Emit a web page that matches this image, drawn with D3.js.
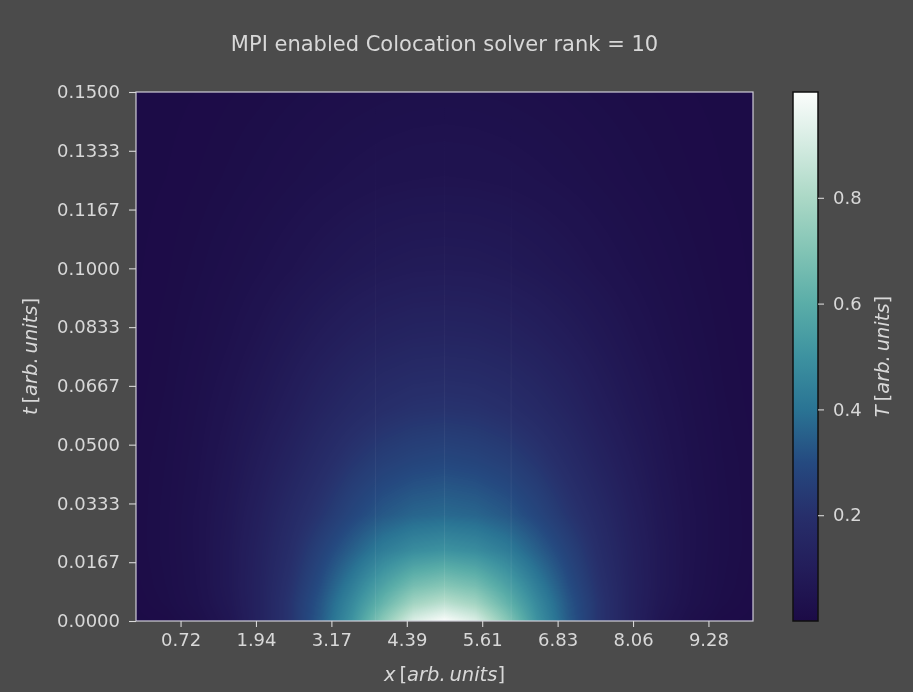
<!DOCTYPE html>
<html>
<head>
<meta charset="utf-8">
<script src="https://cdn.jsdelivr.net/npm/d3@7"></script>
<style>
  body { margin: 0; background: #4b4b4b; }
  #wrap { position: relative; width: 913px; height: 692px; }
  #wrap canvas, #wrap svg { position: absolute; left: 0; top: 0; }
  text { font-family: "DejaVu Sans", sans-serif; }
</style>
</head>
<body>
<div id="wrap">
  <canvas id="heat" width="913" height="692"></canvas>
  <svg id="chart" width="913" height="692"></svg>
</div>
<script>
// x sample positions and t sample rows of the solution T(x, t)
let xGrid = [0, 0.5, 1, 1.5, 2, 2.5, 3, 3.5, 4, 4.5, 5, 5.5, 6, 6.5, 7, 7.5, 8, 8.5, 9, 9.5, 10];
let tGrid = [0, 0.005, 0.01, 0.02, 0.03, 0.045, 0.06, 0.08, 0.1, 0.125, 0.15];

let T_t000 = [0.003, 0.008, 0.025, 0.06, 0.13, 0.22, 0.34, 0.5, 0.72, 0.92, 1.0, 0.92, 0.72, 0.5, 0.34, 0.22, 0.13, 0.06, 0.025, 0.008, 0.003];
let T_t005 = [0.006, 0.015, 0.035, 0.07, 0.13, 0.22, 0.33, 0.47, 0.63, 0.78, 0.84, 0.78, 0.63, 0.47, 0.33, 0.22, 0.13, 0.07, 0.035, 0.015, 0.006];
let T_t010 = [0.008, 0.018, 0.038, 0.075, 0.13, 0.21, 0.31, 0.43, 0.56, 0.67, 0.71, 0.67, 0.56, 0.43, 0.31, 0.21, 0.13, 0.075, 0.038, 0.018, 0.008];
let T_t020 = [0.01, 0.02, 0.04, 0.075, 0.125, 0.19, 0.27, 0.35, 0.43, 0.48, 0.50, 0.48, 0.43, 0.35, 0.27, 0.19, 0.125, 0.075, 0.04, 0.02, 0.01];
let T_t030 = [0.01, 0.02, 0.04, 0.07, 0.115, 0.17, 0.225, 0.285, 0.335, 0.365, 0.375, 0.365, 0.335, 0.285, 0.225, 0.17, 0.115, 0.07, 0.04, 0.02, 0.01];
let T_t045 = [0.01, 0.018, 0.035, 0.06, 0.095, 0.135, 0.18, 0.225, 0.26, 0.28, 0.29, 0.28, 0.26, 0.225, 0.18, 0.135, 0.095, 0.06, 0.035, 0.018, 0.01];
let T_t060 = [0.008, 0.015, 0.03, 0.05, 0.075, 0.105, 0.14, 0.17, 0.195, 0.21, 0.215, 0.21, 0.195, 0.17, 0.14, 0.105, 0.075, 0.05, 0.03, 0.015, 0.008];
let T_t080 = [0.006, 0.012, 0.022, 0.036, 0.054, 0.075, 0.097, 0.117, 0.133, 0.143, 0.146, 0.143, 0.133, 0.117, 0.097, 0.075, 0.054, 0.036, 0.022, 0.012, 0.006];
let T_t100 = [0.005, 0.009, 0.016, 0.025, 0.036, 0.048, 0.061, 0.073, 0.083, 0.089, 0.091, 0.089, 0.083, 0.073, 0.061, 0.048, 0.036, 0.025, 0.016, 0.009, 0.005];
let T_t125 = [0.004, 0.006, 0.01, 0.015, 0.021, 0.028, 0.035, 0.041, 0.046, 0.049, 0.05, 0.049, 0.046, 0.041, 0.035, 0.028, 0.021, 0.015, 0.01, 0.006, 0.004];
let T_t150 = [0.003, 0.004, 0.006, 0.009, 0.012, 0.016, 0.02, 0.024, 0.027, 0.029, 0.03, 0.029, 0.027, 0.024, 0.02, 0.016, 0.012, 0.009, 0.006, 0.004, 0.003];
let T_rows = [T_t000, T_t005, T_t010, T_t020, T_t030, T_t045, T_t060, T_t080, T_t100, T_t125, T_t150];

// faint seams between the MPI sub-domains
let seamX = [3.88, 5.0, 6.08];

// tick labels
let xTicks = [0.7222, 1.9444, 3.1667, 4.3889, 5.6111, 6.8333, 8.0556, 9.2778];
let yTicks = [0, 0.01667, 0.03333, 0.05, 0.06667, 0.08333, 0.1, 0.11667, 0.13333, 0.15];
let cbTicks = [0.2, 0.4, 0.6, 0.8];

// colour map stops
let cmapStops = [0, 0.1, 0.2, 0.3, 0.4, 0.5, 0.6, 0.7, 0.8, 0.9, 1.0];
let cmapColors = ["#1c0b46", "#231d5a", "#272f6b", "#254a80", "#2a7494", "#3d92a0", "#5aada8", "#82c4b5", "#abd8c6", "#d4ebe1", "#fbfdfc"];

let pLeft = 136, pRight = 753, pTop = 92, pBottom = 621;
let cbLeft = 793, cbRight = 818;
let fg = "#d8d8d8";

let x = d3.scaleLinear().domain([0, 10]).range([pLeft, pRight]);
let y = d3.scaleLinear().domain([0, 0.15]).range([pBottom, pTop]);
let cb = d3.scaleLinear().domain([0, 1.0]).range([pBottom, pTop]);
let color = d3.scaleLinear().domain(cmapStops).range(cmapColors).clamp(true);

// look-up table for the canvas
let lut = d3.range(256).map(i => d3.rgb(color(i / 255)));

let sampleT = (xv, tv) => {
  let j = Math.min(Math.max(d3.bisectRight(xGrid, xv) - 1, 0), xGrid.length - 2);
  let i = Math.min(Math.max(d3.bisectRight(tGrid, tv) - 1, 0), tGrid.length - 2);
  let fx = (xv - xGrid[j]) / (xGrid[j + 1] - xGrid[j]);
  let ft = (tv - tGrid[i]) / (tGrid[i + 1] - tGrid[i]);
  let a = T_rows[i][j] * (1 - fx) + T_rows[i][j + 1] * fx;
  let b = T_rows[i + 1][j] * (1 - fx) + T_rows[i + 1][j + 1] * fx;
  return a * (1 - ft) + b * ft;
};

let drawHeat = () => {
  let ctx = document.getElementById("heat").getContext("2d");
  let w = pRight - pLeft, h = pBottom - pTop;
  let img = ctx.createImageData(w, h);
  for (let py = 0; py < h; py++) {
    let tv = y.invert(pTop + py + 0.5);
    for (let px = 0; px < w; px++) {
      let v = sampleT(x.invert(pLeft + px + 0.5), tv);
      let c = lut[Math.max(0, Math.min(255, Math.round(v * 255)))];
      let k = (py * w + px) * 4;
      img.data[k] = c.r; img.data[k + 1] = c.g; img.data[k + 2] = c.b; img.data[k + 3] = 255;
    }
  }
  ctx.putImageData(img, pLeft, pTop);
};
drawHeat();

let svg = d3.select("#chart");
let defs = svg.append("defs");

// seams
let seamGrad = defs.append("linearGradient").attr("id", "seamGrad")
  .attr("x1", 0).attr("y1", 0).attr("x2", 0).attr("y2", 1);
seamGrad.append("stop").attr("offset", "0%").attr("stop-color", "#fff").attr("stop-opacity", 0);
seamGrad.append("stop").attr("offset", "45%").attr("stop-color", "#fff").attr("stop-opacity", 0.03);
seamGrad.append("stop").attr("offset", "100%").attr("stop-color", "#fff").attr("stop-opacity", 0.08);
svg.append("g").selectAll("rect").data(seamX).enter().append("rect")
  .attr("x", d => x(d) - 0.5).attr("y", pTop).attr("width", 1).attr("height", pBottom - pTop)
  .attr("fill", "url(#seamGrad)");

// frame
svg.append("rect").attr("x", pLeft).attr("y", pTop)
  .attr("width", pRight - pLeft).attr("height", pBottom - pTop)
  .attr("fill", "none").attr("stroke", "#cfcdd8").attr("stroke-width", 1.2);

let styleAxis = g => {
  g.select(".domain").remove();
  g.selectAll(".tick line").attr("stroke", fg).attr("stroke-width", 1.1);
  g.selectAll(".tick text").attr("fill", fg).style("font-size", "18px")
    .style("font-family", "DejaVu Sans, sans-serif");
};

svg.append("g").attr("transform", `translate(0,${pBottom})`)
  .call(d3.axisBottom(x).tickValues(xTicks).tickFormat(d3.format(".2f")).tickSize(6).tickPadding(6))
  .call(styleAxis);

svg.append("g").attr("transform", `translate(${pLeft},0)`)
  .call(d3.axisLeft(y).tickValues(yTicks).tickFormat(d3.format(".4f")).tickSize(7).tickPadding(9))
  .call(styleAxis);

// colour bar
let cbGrad = defs.append("linearGradient").attr("id", "cbGrad")
  .attr("x1", 0).attr("y1", 1).attr("x2", 0).attr("y2", 0);
cbGrad.selectAll("stop").data(cmapStops).enter().append("stop")
  .attr("offset", d => (d * 100) + "%")
  .attr("stop-color", (d, i) => cmapColors[i]);
svg.append("rect").attr("x", cbLeft).attr("y", cb(1.0))
  .attr("width", cbRight - cbLeft).attr("height", cb(0) - cb(1.0))
  .attr("fill", "url(#cbGrad)").attr("stroke", "#111").attr("stroke-width", 1.5);

svg.append("g").attr("transform", `translate(${cbRight},0)`)
  .call(d3.axisRight(cb).tickValues(cbTicks).tickFormat(d3.format(".1f")).tickSize(6).tickPadding(9))
  .call(styleAxis);

// title
svg.append("text").attr("x", (pLeft + pRight) / 2).attr("y", 51)
  .attr("text-anchor", "middle").attr("fill", fg).style("font-size", "21px")
  .text("MPI enabled Colocation solver rank = 10");

// axis labels (math style)
let mathLabel = (sel, sym) => {
  sel.append("tspan").style("font-style", "italic").text(sym);
  sel.append("tspan").text("\u2009[");
  sel.append("tspan").style("font-style", "italic").text("arb.\u2009units");
  sel.append("tspan").text("]");
};

svg.append("text").attr("x", (pLeft + pRight) / 2).attr("y", 681)
  .attr("text-anchor", "middle").attr("fill", fg).style("font-size", "19.5px")
  .call(mathLabel, "x");

svg.append("text").attr("transform", `translate(37,${(pTop + pBottom) / 2}) rotate(-90)`)
  .attr("text-anchor", "middle").attr("fill", fg).style("font-size", "19.5px")
  .call(mathLabel, "t");

svg.append("text").attr("transform", `translate(889,${(pTop + pBottom) / 2}) rotate(-90)`)
  .attr("text-anchor", "middle").attr("fill", fg).style("font-size", "19.5px")
  .call(mathLabel, "T");
</script>
</body>
</html>
